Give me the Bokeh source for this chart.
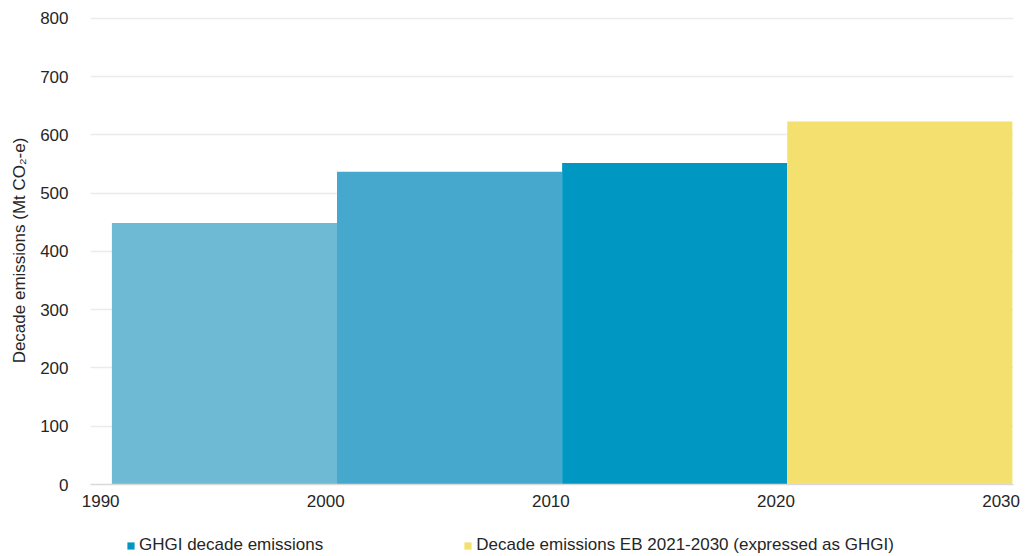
from bokeh.plotting import figure
from bokeh.layouts import column
from bokeh.models import ColumnDataSource, Range1d, Legend, LegendItem, FixedTicker
from bokeh.embed import file_html
from bokeh.resources import INLINE

# Data
decade_start = [1990, 2000, 2010, 2020]
decade_end = [2000, 2010, 2020, 2030]
emissions = [449, 537, 552, 623]
bar_colors = ["#6EBAD5", "#46A8CC", "#0098C3", "#F4E06E"]
series_labels = ["GHGI decade emissions", "Decade emissions EB 2021-2030 (expressed as GHGI)"]
legend_colors = ["#0098C3", "#F4E06E"]
x_ticks = [1990, 2000, 2010, 2020, 2030]
y_ticks = [0, 100, 200, 300, 400, 500, 600, 700, 800]

FONT = "Liberation Sans"
TXT = "#262626"
NAN = float("nan")

p = figure(width=1036, height=514, output_backend="svg", toolbar_location=None,
           x_range=Range1d(1989.55, 2030.55), y_range=Range1d(0, 803.4),
           min_border_left=90, min_border_right=23, min_border_top=16, min_border_bottom=30)
p.outline_line_color = None
p.background_fill_color = "white"
p.border_fill_color = "white"

ghgi = ColumnDataSource(dict(left=[s + 0.5 for s in decade_start[:3]],
                             right=[e + 0.5 for e in decade_end[:3]],
                             top=emissions[:3], color=bar_colors[:3]))
eb = ColumnDataSource(dict(left=[decade_start[3] + 0.5], right=[decade_end[3] + 0.5],
                           top=[emissions[3]], color=[bar_colors[3]]))

p.quad(left="left", right="right", bottom=0, top="top", source=ghgi,
       fill_color="color", line_color=None)
p.quad(left="left", right="right", bottom=0, top="top", source=eb,
       fill_color="color", line_color=None)

p.xaxis.ticker = FixedTicker(ticks=x_ticks)
p.yaxis.ticker = FixedTicker(ticks=y_ticks)
p.xgrid.grid_line_color = None
p.ygrid.grid_line_color = "#EBEBEB"
p.ygrid.grid_line_width = 1.5

for ax in (p.xaxis, p.yaxis):
    ax.major_tick_line_color = None
    ax.minor_tick_line_color = None
    ax.major_label_text_font = FONT
    ax.major_label_text_font_size = "17px"
    ax.major_label_text_color = TXT
p.yaxis.axis_line_color = None
p.xaxis.axis_line_color = "#D9D9D9"
p.xaxis.axis_line_width = 1.5
p.yaxis.major_label_standoff = 16
p.xaxis.major_label_standoff = 4

p.yaxis.axis_label = "Decade emissions (Mt CO\u2082-e)"
p.yaxis.axis_label_text_font = FONT
p.yaxis.axis_label_text_font_size = "17px"
p.yaxis.axis_label_text_font_style = "normal"
p.yaxis.axis_label_text_color = TXT
p.yaxis.axis_label_standoff = 8

# Legend strip below the chart (its frame is aligned with the chart's frame)
lf = figure(width=1036, height=42, output_backend="svg", toolbar_location=None,
            x_range=Range1d(0, 1), y_range=Range1d(0, 1),
            x_axis_type=None, y_axis_type=None,
            min_border_left=90, min_border_right=23, min_border_top=0, min_border_bottom=0)
lf.outline_line_color = None
lf.xgrid.visible = False
lf.ygrid.visible = False
lr1 = lf.quad(left=[NAN], right=[NAN], bottom=[NAN], top=[NAN],
              fill_color=legend_colors[0], line_color=None)
lr2 = lf.quad(left=[NAN], right=[NAN], bottom=[NAN], top=[NAN],
              fill_color=legend_colors[1], line_color=None)

legend = Legend(items=[LegendItem(label=series_labels[0], renderers=[lr1]),
                       LegendItem(label=series_labels[1], renderers=[lr2])],
                orientation="horizontal", location=(36, 1),
                glyph_width=9, glyph_height=9, label_standoff=4, spacing=140,
                label_text_font=FONT, label_text_font_size="17px", label_text_color=TXT,
                label_height=20,
                border_line_color=None, background_fill_alpha=0, padding=0, margin=0)
lf.add_layout(legend, "center")

layout = column(p, lf, spacing=0)
open("out.html", "w").write(file_html(layout, INLINE))
